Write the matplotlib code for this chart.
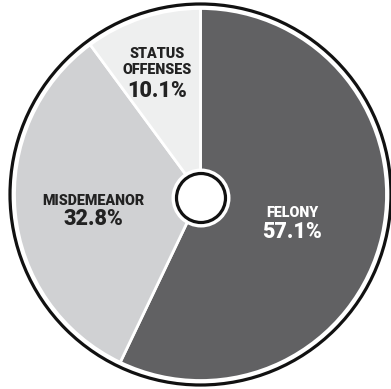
import matplotlib
matplotlib.use("Agg")
import matplotlib.pyplot as plt
from matplotlib.patches import Circle

categories = ["FELONY", "MISDEMEANOR", "STATUS\nOFFENSES"]
values = [57.1, 32.8, 10.1]
colors = ["#616163", "#d0d1d3", "#eeefef"]
text_colors = ["white", "#222222", "#222222"]

W, H = 391, 389
fig = plt.figure(figsize=(W / 100, H / 100), dpi=100)
ax = fig.add_axes([0, 0, 1, 1])

def Y(y):
    return H - y

cx, cy = 200.5, Y(194.5)
R = 186

ax.pie(values, colors=colors, startangle=90, counterclock=False,
       radius=R, center=(cx, cy), frame=True,
       wedgeprops=dict(edgecolor="white", linewidth=2.0))
ax.set_xlim(0, W)
ax.set_ylim(0, H)
ax.set_aspect("equal")
ax.axis("off")

ax.add_patch(Circle((cx, cy), 190.5, facecolor="none", edgecolor="#111111", linewidth=2.3, zorder=5))
hx, hy = 201, Y(198)
ax.add_patch(Circle((hx, hy), 29.5, facecolor="white", edgecolor="none", zorder=6))
ax.add_patch(Circle((hx, hy), 24.5, facecolor="white", edgecolor="#111111", linewidth=2.3, zorder=7))

fam = ["Roboto", "DejaVu Sans"]
# label line baselines (pixel rows from top) and x centres
label_x = [292.5, 93.5, 157]
label_base = [[217], [205], [58, 74]]
pct_base = [238, 225, 97]
for cat, v, tc, lx, lb, pb in zip(categories, values, text_colors, label_x, label_base, pct_base):
    for line, b in zip(cat.split("\n"), lb):
        ax.text(lx, Y(b), line, ha="center", va="baseline", fontsize=10.3,
                fontweight="black", color=tc, family=fam, zorder=8)
    ax.text(lx, Y(pb), f"{v:.1f}%", ha="center", va="baseline", fontsize=15.5,
            fontweight="black", color=tc, family=fam, zorder=8)

fig.savefig("out.png", dpi=100)
